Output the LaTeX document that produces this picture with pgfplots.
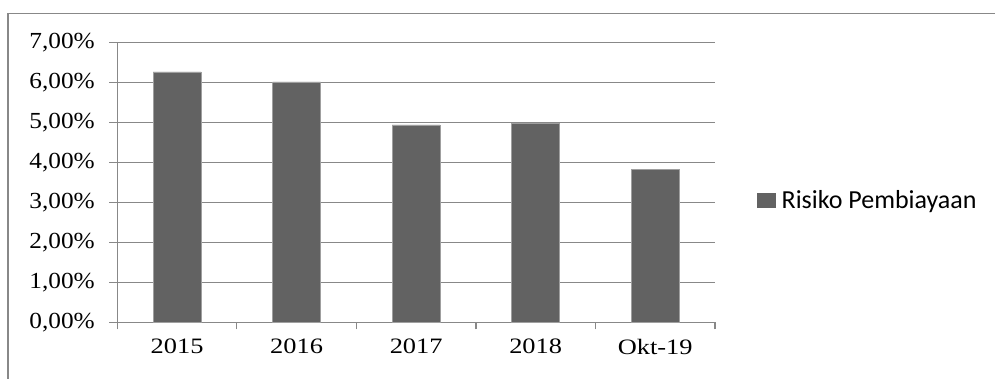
\documentclass[border=0pt]{standalone}
\usepackage{graphicx}
\usepackage{fontspec}
\setmainfont{Liberation Serif}
\newfontfamily\carlito{Carlito}
\usepackage{pgfplots}
\pgfplotsset{compat=1.18}
\definecolor{barc}{HTML}{626262}
\definecolor{gridc}{HTML}{888888}
\newcommand\sx[1]{\scalebox{1.2}[1]{#1}}
\newcommand\sy[1]{\scalebox{1.1}[1]{#1}}
\begin{document}
\begin{tikzpicture}[x=1pt,y=1pt]
\path[use as bounding box] (0,0) rectangle (995,379);
\begin{axis}[
  at={(117.3pt,56.7pt)}, anchor=south west,
  scale only axis, width=597.7pt, height=279.6pt,
  xmin=-0.5, xmax=4.5, ymin=0, ymax=7,
  axis x line*=bottom, axis y line*=left,
  axis line style={gridc, line width=1.2pt, -},
  ybar, bar width=48pt,
  xtick={0,1,2,3,4},
  xticklabels={\sx{2015},\sx{2016},\sx{2017},\sx{2018},\sx{Okt-19}},
  minor xtick={-0.5,0.5,1.5,2.5,3.5,4.5},
  major x tick style={draw=none},
  minor x tick style={gridc, line width=1.2pt},
  minor tick length=7pt,
  ytick={0,1,2,3,4,5,6,7},
  yticklabels={\sy{0,00\%},\sy{1,00\%},\sy{2,00\%},\sy{3,00\%},\sy{4,00\%},\sy{5,00\%},\sy{6,00\%},\sy{7,00\%}},
  major y tick style={gridc, line width=1.2pt},
  major tick length=8pt,
  tick align=outside,
  ymajorgrids, grid style={gridc, line width=1.2pt},
  xticklabel style={font=\fontsize{22}{25}\selectfont, text=black, yshift=-5pt},
  yticklabel style={font=\fontsize{23}{26}\selectfont, text=black, xshift=-11pt},
  legend style={at={(1.07,0.437)}, anchor=west, draw=none, fill=none,
    font=\carlito\fontsize{26}{30}\selectfont, inner sep=0pt,
    legend cell align=left},
  legend image code/.code={\fill[barc] (0pt,-7pt) rectangle (18pt,7pt); \path (22pt,0pt);},
]
\addplot[fill=barc, draw=gray!75, line width=0.6pt] coordinates {(0,6.27) (1,6.02) (2,4.94) (3,4.98) (4,3.83)};
\addlegendentry{Risiko Pembiayaan}
\end{axis}
\draw[gridc, line width=1.2pt] (8,-20) -- (8,365.7) -- (1020,365.7);
\end{tikzpicture}
\end{document}
